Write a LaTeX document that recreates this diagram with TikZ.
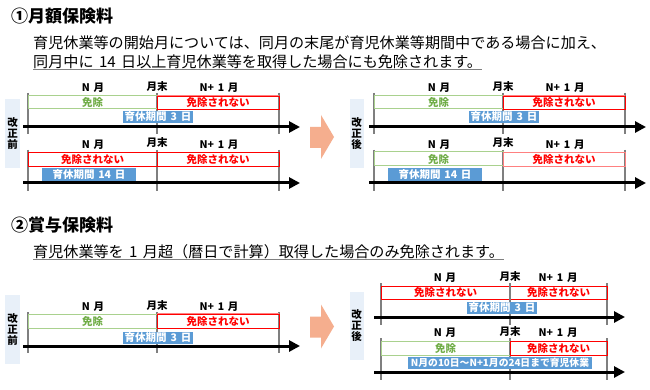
\documentclass[tikz,border=0pt]{standalone}
\usepackage{fontspec}
\setmainfont{Noto Sans CJK JP}[WordSpace=1.6]
\usetikzlibrary{arrows.meta}
\definecolor{gline}{HTML}{A9D18E}
\definecolor{gtext}{HTML}{70AD47}
\definecolor{rline}{HTML}{FF0000}
\definecolor{rlight}{HTML}{FF8080}
\definecolor{bfill}{HTML}{5B9BD5}
\definecolor{sidebg}{HTML}{E8F0F9}
\definecolor{peach}{HTML}{F5AE8E}
\definecolor{tickc}{HTML}{7F7F7F}
\definecolor{ulc}{HTML}{808080}
\tikzset{
 hdr/.style={anchor=west, inner sep=0pt, font=\bfseries\fontsize{17}{20}\selectfont},
 para/.style={anchor=west, inner sep=0pt, font=\fontsize{15.1}{18}\selectfont},
 mlab/.style={inner sep=0pt, font=\bfseries\fontsize{10.5}{12}\selectfont},
 gbox/.style={draw=gline, line width=1pt, text=gtext, inner sep=0pt, font=\bfseries\fontsize{10.5}{12}\selectfont},
 rbox/.style={draw=rline, line width=0.8pt, text=rline, inner sep=0pt, font=\bfseries\fontsize{10.5}{12}\selectfont},
 bbox/.style={fill=bfill, text=white, inner sep=0pt, font=\bfseries\fontsize{10.5}{12}\selectfont},
 sidebox/.style={fill=sidebg, inner sep=0pt, minimum width=15pt, align=center, font=\bfseries\fontsize{10.5}{11}\selectfont},
 tickline/.style={draw=tickc, line width=1.4pt},
 axisline/.style={line width=3pt, -{Triangle[length=11pt,width=11pt]}},
 ulline/.style={draw=ulc, line width=0.8pt},
 bigarrow/.style={fill=peach},
 toplight/.style={draw=rlight, line width=1.6pt},
}
\begin{document}
\begin{tikzpicture}[x=1pt,y=-1pt]
\useasboundingbox[fill=white] (0,0) rectangle (650,390);

% ---------- texts ----------
\node[hdr] (h1) at (11,16) {①月額保険料};
\node[para] (p1) at (33,43) {育児休業等の開始月については、同月の末尾が育児休業等期間中である場合に加え、};
\node[para] (p2) at (33,62) {同月中に 14 日以上育児休業等を取得した場合にも免除されます。};
\draw[ulline] ([yshift=-2pt]p2.base west) -- ([yshift=-2pt]p2.base east);
\node[hdr] (h2) at (11,225) {②賞与保険料};
\node[para] (p3) at (33,252) {育児休業等を 1 月超（暦日で計算）取得した場合のみ免除されます。};
\draw[ulline] ([yshift=-2pt]p3.base west) -- ([yshift=-2pt]p3.base east);

% ---------- section 1 left (before) ----------
\node[sidebox, minimum height=69pt] (s1l) at (12.5,133.5) {改\\正\\前};
% row 1
\draw[tickline] (28,93) -- (28,134);
\draw[tickline] (157,93) -- (157,134);
\draw[tickline] (279,93) -- (279,134);
\node[mlab] (a1n) at (93,88) {N 月};
\node[mlab] (a1m) at (157,87) {月末};
\node[mlab] (a1p) at (219,88) {N+ 1 月};
\node[gbox, minimum width=129pt, minimum height=13pt] (a1g) at (92.5,102.5) {免除};
\node[rbox, minimum width=122pt, minimum height=13pt] (a1r) at (218,102.5) {免除されない};
\draw[toplight] (a1r.north west) -- (a1r.north east);
\node[bbox, minimum width=70pt, minimum height=12pt] (a1b) at (158,117) {育休期間 3 日};
\coordinate (a1s) at (23,127); \coordinate (a1e) at (300,127);
\draw[axisline] (a1s) -- (a1e);
% row 2
\draw[tickline] (28,150) -- (28,191);
\draw[tickline] (157,150) -- (157,191);
\draw[tickline] (279,150) -- (279,191);
\node[mlab] (a2n) at (93,145) {N 月};
\node[mlab] (a2m) at (157,143) {月末};
\node[mlab] (a2p) at (219,145) {N+ 1 月};
\node[rbox, minimum width=129pt, minimum height=14pt] (a2l) at (92.5,159) {免除されない};
\node[rbox, minimum width=122pt, minimum height=14pt] (a2r) at (218,159) {免除されない};
\node[bbox, minimum width=94pt, minimum height=13pt] (a2b) at (89,174.5) {育休期間 14 日};
\coordinate (a2s) at (23,183); \coordinate (a2e) at (300,183);
\draw[axisline] (a2s) -- (a2e);

% big arrow 1
\fill[bigarrow] (310,127) -- (321,127) -- (321,115) -- (334,137) -- (321,159) -- (321,148) -- (310,148) -- cycle;

% ---------- section 1 right (after) ----------
\begin{scope}[xshift=346pt]
\node[sidebox, minimum width=14pt, minimum height=69pt] (s1r) at (10.5,133.5) {改\\正\\後};
\draw[tickline] (28,93) -- (28,134);
\draw[tickline] (157,93) -- (157,134);
\draw[tickline] (279,93) -- (279,134);
\node[mlab] (b1n) at (93,88) {N 月};
\node[mlab] (b1m) at (157,87) {月末};
\node[mlab] (b1p) at (219,88) {N+ 1 月};
\node[gbox, minimum width=129pt, minimum height=13pt] (b1g) at (92.5,102.5) {免除};
\node[rbox, minimum width=122pt, minimum height=13pt] (b1r) at (218,102.5) {免除されない};
\draw[toplight] (b1r.north west) -- (b1r.north east);
\node[bbox, minimum width=70pt, minimum height=12pt] (b1b) at (158,117) {育休期間 3 日};
\coordinate (b1s) at (23,127); \coordinate (b1e) at (300,127);
\draw[axisline] (b1s) -- (b1e);
\draw[tickline] (28,150) -- (28,191);
\draw[tickline] (157,150) -- (157,191);
\draw[tickline] (279,150) -- (279,191);
\node[mlab] (b2n) at (93,145) {N 月};
\node[mlab] (b2m) at (157,143) {月末};
\node[mlab] (b2p) at (219,145) {N+ 1 月};
\node[gbox, minimum width=129pt, minimum height=14pt] (b2g) at (92.5,159) {免除};
\node[rbox, draw=rlight, minimum width=122pt, minimum height=14pt] (b2r) at (218,159) {免除されない};
\node[bbox, minimum width=94pt, minimum height=13pt] (b2b) at (89,174.5) {育休期間 14 日};
\coordinate (b2s) at (23,183); \coordinate (b2e) at (300,183);
\draw[axisline] (b2s) -- (b2e);
\end{scope}

% ---------- section 2 left (before) ----------
\node[sidebox, minimum height=69pt] (s2l) at (12.5,329.5) {改\\正\\前};
\draw[tickline] (28,312) -- (28,353);
\draw[tickline] (157,312) -- (157,353);
\draw[tickline] (279,312) -- (279,353);
\node[mlab] (c1n) at (93,307) {N 月};
\node[mlab] (c1m) at (157,306) {月末};
\node[mlab] (c1p) at (219,307) {N+ 1 月};
\node[gbox, minimum width=129pt, minimum height=14pt] (c1g) at (92.5,321) {免除};
\node[rbox, minimum width=122pt, minimum height=14pt] (c1r) at (218,321) {免除されない};
\draw[toplight] (c1r.north west) -- (c1r.north east);
\node[bbox, minimum width=70pt, minimum height=12pt] (c1b) at (158,337.5) {育休期間 3 日};
\coordinate (c1s) at (23,346); \coordinate (c1e) at (300,346);
\draw[axisline] (c1s) -- (c1e);

% big arrow 2
\fill[bigarrow] (310,316.5) -- (321,316.5) -- (321,304.5) -- (334,326.5) -- (321,348.5) -- (321,337.5) -- (310,337.5) -- cycle;

% ---------- section 2 right (after) ----------
\node[sidebox, minimum width=14pt, minimum height=68pt] (s2r) at (356.5,326) {改\\正\\後};
% row 1
\draw[tickline] (381,283) -- (381,325);
\draw[tickline] (510,283) -- (510,325);
\draw[tickline] (607,283) -- (607,325);
\node[mlab] (d1n) at (445,278) {N 月};
\node[mlab] (d1m) at (510,277) {月末};
\node[mlab] (d1p) at (558,278) {N+ 1 月};
\node[rbox, minimum width=129pt, minimum height=13pt] (d1l) at (445.5,292.5) {免除されない};
\node[rbox, minimum width=97pt, minimum height=13pt] (d1r) at (558.5,292.5) {免除されない};
\draw[tickline] (510,283) -- (510,300);
\node[bbox, minimum width=70pt, minimum height=12pt] (d1b) at (502,308) {育休期間 3 日};
\coordinate (d1s) at (374,317); \coordinate (d1e) at (625,317);
\draw[axisline] (d1s) -- (d1e);
% row 2
\draw[tickline] (381,338) -- (381,380);
\draw[tickline] (510,338) -- (510,380);
\draw[tickline] (607,338) -- (607,380);
\node[mlab] (d2n) at (445,333) {N 月};
\node[mlab] (d2m) at (510,332) {月末};
\node[mlab] (d2p) at (558,333) {N+ 1 月};
\node[gbox, minimum width=129pt, minimum height=14pt] (d2g) at (445.5,348) {免除};
\node[rbox, minimum width=97pt, minimum height=14pt] (d2r) at (558.5,348) {免除されない};
\node[bbox, minimum width=184pt, minimum height=12pt, font=\bfseries\fontsize{9.8}{12}\selectfont] (d2b) at (500,363) {N月の10日～N+1月の24日まで育児休業};
\coordinate (d2s) at (374,372); \coordinate (d2e) at (625,372);
\draw[axisline] (d2s) -- (d2e);
\end{tikzpicture}
\end{document}
